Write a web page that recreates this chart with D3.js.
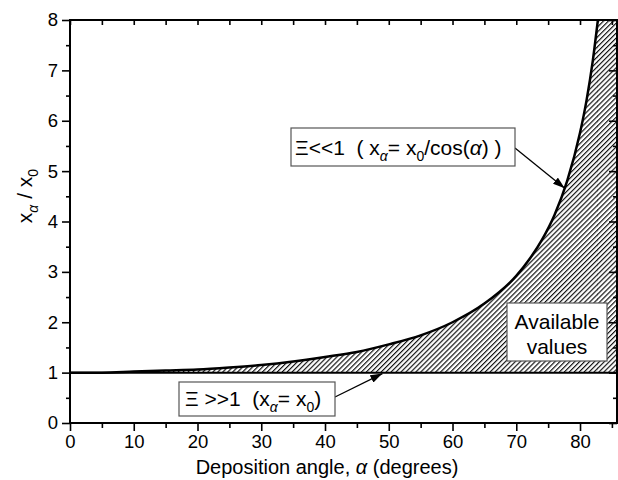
<!DOCTYPE html>
<html>
<head>
<meta charset="utf-8">
<script src="https://cdn.jsdelivr.net/npm/d3@7"></script>
<style>
  body { margin: 0; background: #fff; }
  text { font-family: "Liberation Sans", Arial, sans-serif; fill: #000; }
</style>
</head>
<body>
<div id="graphe"></div>
<script>
//----------------------------------------------------------------
//  Données
//----------------------------------------------------------------
var angles   = [0, 5, 10, 15, 20, 25, 30, 35, 40, 45, 50, 55, 60, 65, 70, 72, 74, 76, 78, 80, 81, 82, 82.8];
var rapports = [1.00, 1.00, 1.02, 1.04, 1.06, 1.10, 1.15, 1.22, 1.31, 1.41, 1.56, 1.74, 2.00, 2.37, 2.92, 3.24, 3.63, 4.13, 4.81, 5.76, 6.39, 7.19, 8.00];

var ticksX = [0, 10, 20, 30, 40, 50, 60, 70, 80];
var ticksXmineurs = [5, 15, 25, 35, 45, 55, 65, 75, 85];
var ticksY = [0, 1, 2, 3, 4, 5, 6, 7, 8];
var ticksYmineurs = [0.5, 1.5, 2.5, 3.5, 4.5, 5.5, 6.5, 7.5];

var domaineX = [0, 85.8];
var domaineY = [0, 8];
var niveauBas = 1; // x_alpha = x_0

//----------------------------------------------------------------
//  svg
//----------------------------------------------------------------
var largeurSvg = 618, hauteurSvg = 480;
var marges = {haut: 20, droite: 1, bas: 57, gauche: 70};

var svg = d3.select("#graphe").append("svg")
    .attr("width", largeurSvg)
    .attr("height", hauteurSvg);

var x = d3.scaleLinear().domain(domaineX).range([marges.gauche, largeurSvg - marges.droite]);
var y = d3.scaleLinear().domain(domaineY).range([hauteurSvg - marges.bas, marges.haut]);

var defs = svg.append("defs");

// hachures
defs.append("pattern")
    .attr("id", "hachures")
    .attr("patternUnits", "userSpaceOnUse")
    .attr("width", 3.5).attr("height", 10)
    .attr("patternTransform", "rotate(45)")
  .append("line")
    .attr("x1", 0.6).attr("y1", 0).attr("x2", 0.6).attr("y2", 10)
    .attr("stroke", "#000").attr("stroke-width", 1.1);

defs.append("clipPath").attr("id", "zone")
  .append("rect")
    .attr("x", x(domaineX[0])).attr("y", y(domaineY[1]))
    .attr("width", x(domaineX[1]) - x(domaineX[0]))
    .attr("height", y(domaineY[0]) - y(domaineY[1]));

defs.append("marker")
    .attr("id", "fleche")
    .attr("viewBox", "0 0 12 8")
    .attr("refX", 12).attr("refY", 4)
    .attr("markerWidth", 12).attr("markerHeight", 8)
    .attr("markerUnits", "userSpaceOnUse")
    .attr("orient", "auto")
  .append("path")
    .attr("d", "M0,0 L12,4 L0,8 Z")
    .attr("fill", "#000");

var donnees = angles.map(function(a, i) { return {a: a, r: rapports[i]}; });

var trace = svg.append("g").attr("clip-path", "url(#zone)");

// zone hachurée entre y=1 et la courbe
trace.append("path")
    .datum(donnees)
    .attr("fill", "url(#hachures)")
    .attr("d", d3.area()
        .curve(d3.curveMonotoneX)
        .x(function(d) { return x(d.a); })
        .y0(y(niveauBas))
        .y1(function(d) { return y(d.r); }));

trace.append("rect")
    .attr("x", x(angles[angles.length - 1]) - 0.5)
    .attr("y", y(domaineY[1]))
    .attr("width", x(domaineX[1]) - x(angles[angles.length - 1]) + 0.5)
    .attr("height", y(niveauBas) - y(domaineY[1]))
    .attr("fill", "url(#hachures)");

// droite y = 1
trace.append("line")
    .attr("x1", x(domaineX[0])).attr("x2", x(domaineX[1]))
    .attr("y1", y(niveauBas)).attr("y2", y(niveauBas))
    .attr("stroke", "#000").attr("stroke-width", 2);

// courbe 1/cos
trace.append("path")
    .datum(donnees)
    .attr("fill", "none")
    .attr("stroke", "#000")
    .attr("stroke-width", 2.5)
    .attr("d", d3.line()
        .curve(d3.curveMonotoneX)
        .x(function(d) { return x(d.a); })
        .y(function(d) { return y(d.r); }));

//----------------------------------------------------------------
//  axes
//----------------------------------------------------------------
function styleAxe(g, epaisseur) {
    g.select(".domain").remove();
    g.selectAll("line").attr("stroke", "#000").attr("stroke-width", epaisseur);
    g.selectAll("text").attr("font-size", 18.5).style("font-family", "Liberation Sans, Arial, sans-serif");
}

var bas = y(domaineY[0]), haut = y(domaineY[1]);
var gauche = x(domaineX[0]), droite = x(domaineX[1]);

svg.append("g").attr("transform", "translate(0," + bas + ")")
    .call(d3.axisBottom(x).tickValues(ticksX).tickSize(8).tickPadding(4))
    .call(styleAxe, 1.6);
svg.append("g").attr("transform", "translate(0," + bas + ")")
    .call(d3.axisBottom(x).tickValues(ticksXmineurs).tickSize(5).tickFormat(""))
    .call(styleAxe, 1.6);
svg.append("g").attr("transform", "translate(0," + haut + ")")
    .call(d3.axisTop(x).tickValues(ticksX.concat(ticksXmineurs)).tickSize(-5).tickFormat(""))
    .call(styleAxe, 1.6);

svg.append("g").attr("transform", "translate(" + gauche + ",0)")
    .call(d3.axisLeft(y).tickValues(ticksY).tickSize(8).tickPadding(4))
    .call(styleAxe, 1.6);
svg.append("g").attr("transform", "translate(" + gauche + ",0)")
    .call(d3.axisLeft(y).tickValues(ticksYmineurs).tickSize(4).tickFormat(""))
    .call(styleAxe, 1.6);
svg.append("g").attr("transform", "translate(" + droite + ",0)")
    .call(d3.axisRight(y).tickValues(ticksY).tickSize(-8).tickFormat(""))
    .call(styleAxe, 1.6);
svg.append("g").attr("transform", "translate(" + droite + ",0)")
    .call(d3.axisRight(y).tickValues(ticksYmineurs).tickSize(-4).tickFormat(""))
    .call(styleAxe, 1.6);

// cadre
svg.append("rect")
    .attr("x", gauche).attr("y", haut)
    .attr("width", droite - gauche).attr("height", bas - haut)
    .attr("fill", "none").attr("stroke", "#000").attr("stroke-width", 2);

// titres des axes
var titreX = svg.append("text")
    .attr("x", 327).attr("y", 474)
    .attr("text-anchor", "middle")
    .attr("font-size", 20);
titreX.append("tspan").text("Deposition angle, ");
titreX.append("tspan").attr("font-style", "italic").text("α");
titreX.append("tspan").text(" (degrees)");

var titreY = svg.append("text")
    .attr("transform", "translate(32,196) rotate(-90)")
    .attr("text-anchor", "middle")
    .attr("font-size", 21);
titreY.append("tspan").text("x");
titreY.append("tspan").attr("font-style", "italic").attr("font-size", 14).attr("dy", 6).text("α");
titreY.append("tspan").attr("dy", -6).text(" / x");
titreY.append("tspan").attr("font-size", 14).attr("dy", 6).text("0");

//----------------------------------------------------------------
//  annotations
//----------------------------------------------------------------
function boite(x0, y0, l, h) {
    svg.append("rect")
        .attr("x", x0).attr("y", y0).attr("width", l).attr("height", h)
        .attr("fill", "#fff").attr("stroke", "#555").attr("stroke-width", 1.2);
}
function fleche(x1, y1, x2, y2) {
    svg.append("line")
        .attr("x1", x1).attr("y1", y1).attr("x2", x2).attr("y2", y2)
        .attr("stroke", "#000").attr("stroke-width", 1.3)
        .attr("marker-end", "url(#fleche)");
}

// Xi << 1
fleche(515, 148, x(77.6), y(4.66));
boite(291, 128, 224, 38);
var t1 = svg.append("text").attr("x", 295).attr("y", 155).attr("font-size", 21)
    .attr("xml:space", "preserve").style("white-space", "pre");
t1.append("tspan").text("Ξ<<1  ( x");
t1.append("tspan").attr("font-style", "italic").attr("font-size", 14).attr("dy", 6).text("α");
t1.append("tspan").attr("dy", -6).text("= x");
t1.append("tspan").attr("font-size", 14).attr("dy", 6).text("0");
t1.append("tspan").attr("dy", -6).text("/cos(");
t1.append("tspan").attr("font-style", "italic").text("α");
t1.append("tspan").text(") )");

// Xi >> 1
fleche(335, 397, x(49), y(niveauBas) + 1);
boite(179, 382, 156, 34);
var t2 = svg.append("text").attr("x", 185).attr("y", 406).attr("font-size", 21)
    .attr("xml:space", "preserve").style("white-space", "pre");
t2.append("tspan").text("Ξ >>1  (x");
t2.append("tspan").attr("font-style", "italic").attr("font-size", 14).attr("dy", 6).text("α");
t2.append("tspan").attr("dy", -6).text("= x");
t2.append("tspan").attr("font-size", 14).attr("dy", 6).text("0");
t2.append("tspan").attr("dy", -6).text(")");

// valeurs possibles
boite(507, 303, 100, 58);
svg.append("text").attr("x", 557).attr("y", 329).attr("text-anchor", "middle")
    .attr("font-size", 21).text("Available");
svg.append("text").attr("x", 557).attr("y", 354).attr("text-anchor", "middle")
    .attr("font-size", 21).text("values");
</script>
</body>
</html>
